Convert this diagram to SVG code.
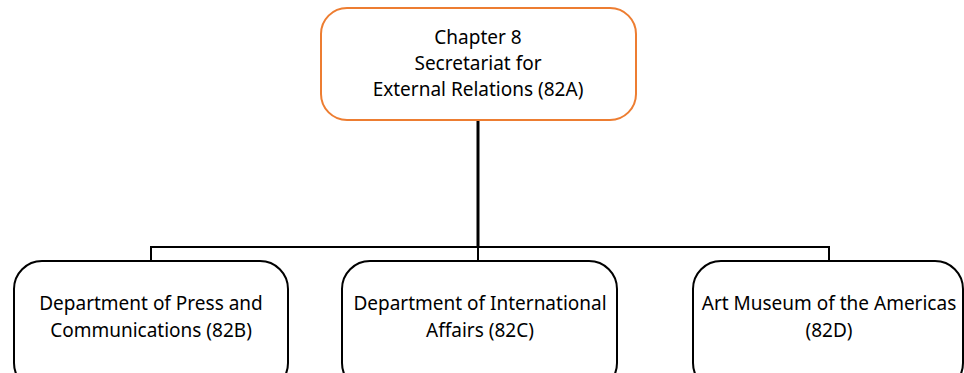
<svg xmlns="http://www.w3.org/2000/svg" width="964" height="373" viewBox="0 0 964 373">
<style>
.box{fill:#fff;stroke:#000;stroke-width:2}
.top{fill:#fff;stroke:#ED7D31;stroke-width:2}
.t{font-family:"Noto Sans","Liberation Sans",Arial,sans-serif;font-size:19px;fill:#000;text-anchor:middle}
.c{fill:none;stroke:#000;stroke-width:2}
</style>
<g id="connectors">
<line class="c" x1="478" y1="120" x2="478" y2="247" style="stroke-width:3"/>
<polyline class="c" points="151,261 151,247 829,247 829,261"/>
<line class="c" x1="478" y1="247" x2="478" y2="261"/>
</g>
<g id="n82A">
<rect class="top" x="321" y="8" width="315" height="112" rx="26"/>
<text class="t" x="478" y="44">Chapter 8</text>
<text class="t" x="478" y="70">Secretariat for</text>
<text class="t" x="478" y="96">External Relations (82A)</text>
</g>
<g id="n82B">
<rect class="box" x="14" y="261" width="274" height="130" rx="28"/>
<text class="t" x="151" y="310">Department of Press and</text>
<text class="t" x="151" y="337">Communications (82B)</text>
</g>
<g id="n82C">
<rect class="box" x="342" y="261" width="275" height="130" rx="28"/>
<text class="t" x="480" y="310">Department of International</text>
<text class="t" x="480" y="337">Affairs (82C)</text>
</g>
<g id="n82D">
<rect class="box" x="693" y="261" width="270" height="130" rx="28"/>
<text class="t" x="829" y="310">Art Museum of the Americas</text>
<text class="t" x="829" y="337">(82D)</text>
</g>
</svg>
